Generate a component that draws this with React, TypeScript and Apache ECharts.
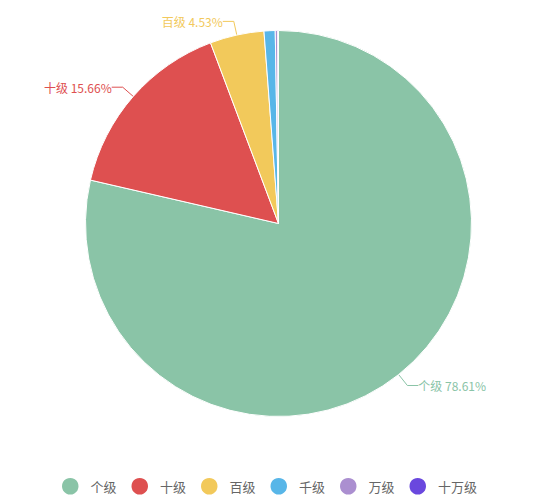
import React, { useEffect, useRef } from "react";
import * as echarts from "echarts";

const categories = ["个级", "十级", "百级", "千级", "万级", "十万级"];
const values = [78.61, 15.66, 4.53, 0.93, 0.2, 0.07];
const colors = ["#8ac4a7", "#de5050", "#f2c95b", "#58b6e8", "#ab8fd0", "#6a48de"];
const showLabel = [true, true, true, false, false, false];

export default function App() {
  const ref = useRef<HTMLDivElement>(null);
  useEffect(() => {
    if (!ref.current) return;
    const chart = echarts.init(ref.current, undefined, { renderer: "svg" });
    const data = categories.map((name, i) => ({
      name,
      value: values[i],
      label: { show: showLabel[i] },
      labelLine: { show: showLabel[i] },
    }));
    chart.setOption({
      animation: false,
      color: colors,
      textStyle: { fontFamily: "'Noto Sans CJK SC', 'Noto Sans', sans-serif" },
      legend: {
        orient: "horizontal",
        left: 47,
        top: 463,
        icon: "circle",
        itemWidth: 30.5,
        itemHeight: 18.5,
        itemGap: 13,
        textStyle: { fontSize: 13, color: "#666" },
        data: categories,
      },
      series: [
        {
          type: "pie",
          center: [270.5, 215.5],
          radius: 193,
          startAngle: 90,
          clockwise: true,
          avoidLabelOverlap: false,
          itemStyle: { borderColor: "#fff", borderWidth: 1 },
          label: {
            formatter: (p: any) => `${p.name} ${p.value}%`,
            fontSize: 12,
            color: "inherit",
            distanceToLabelLine: 0,
          },
          labelLine: { length: 14, length2: 11, lineStyle: { width: 1 } },
          data,
        },
      ],
    });
    return () => chart.dispose();
  }, []);
  return <div ref={ref} style={{ width: 540, height: 492 }} />;
}
